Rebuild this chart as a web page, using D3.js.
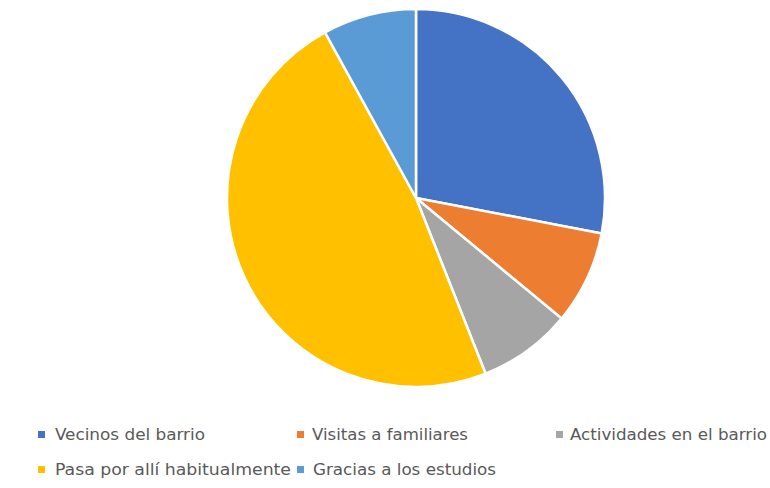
<!DOCTYPE html>
<html><head><meta charset="utf-8">
<script src="https://cdn.jsdelivr.net/npm/d3@7"></script>
<style>body{margin:0;background:#fff}svg{display:block}</style>
</head><body><svg id="c" width="770" height="488"></svg>
<script>
const categories = ["Vecinos del barrio","Visitas a familiares","Actividades en el barrio","Pasa por allí habitualmente","Gracias a los estudios"];
const values = [28, 8, 8, 48, 8];
const colors = ["#4472C4","#ED7D31","#A5A5A5","#FFC000","#5B9BD5"];

const svg = d3.select("#c");
const cx = 416, cy = 198, r = 189;
const pie = d3.pie().sort(null).value(d => d)(values);
const arc = d3.arc().innerRadius(0).outerRadius(r);
svg.append("g").attr("transform", `translate(${cx},${cy})`)
  .selectAll("path").data(pie).join("path")
  .attr("d", arc).attr("fill", (d,i) => colors[i])
  .attr("stroke", "#fff").attr("stroke-width", 2.5).attr("stroke-linejoin","round");

// legend layout: marker x, text x, baseline y, text width
const legendMarkX = [38, 297, 556, 38, 297];
const legendTextX = [55, 312, 570, 55, 313];
const legendY = [440, 440, 440, 475, 475];
const legendWidths = [150, 156, 197, 236, 183];
const lg = svg.append("g").attr("font-family","'DejaVu Sans Condensed','Open Sans',sans-serif").attr("font-size",16).attr("fill","#595959");
categories.forEach((c,i) => {
  lg.append("rect").attr("x",legendMarkX[i]).attr("y",legendY[i]-9).attr("width",7).attr("height",7).attr("fill",colors[i]);
  lg.append("text").attr("x",legendTextX[i]).attr("y",legendY[i]).attr("textLength",legendWidths[i]).attr("lengthAdjust","spacingAndGlyphs").text(c);
});
</script></body></html>
